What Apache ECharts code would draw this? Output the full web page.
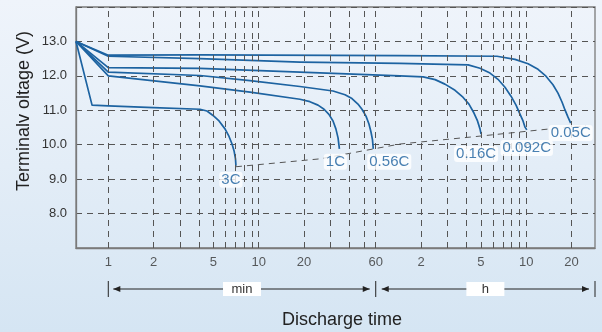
<!DOCTYPE html>
<html>
<head>
<meta charset="utf-8">
<script src="https://cdn.jsdelivr.net/npm/echarts@6/dist/echarts.min.js"></script>
<style>
html,body{margin:0;padding:0;}
body{width:602px;height:332px;background:linear-gradient(to bottom,#eff4fb 0%,#e3edf7 50%,#d5e5f3 100%);}
#c{width:602px;height:332px;}
</style>
</head>
<body>
<div id="c"></div>
<script>
// ---- data (time in minutes, voltage in V) ----
const seriesNames = ['3C', '1C', '0.56C', '0.16C', '0.092C', '0.05C'];
const curve3C = [[0.61,13.0],[0.78,11.15],[1,11.13],[2,11.08],[4.07,11.03],[4.53,10.98],[4.97,10.85],[5.45,10.69],[5.97,10.46],[6.35,10.24],[6.65,10.02],[6.86,9.82],[7.01,9.59],[7.06,9.39]];
const curve1C = [[0.61,13.0],[1,12.0],[4.07,11.71],[8.75,11.53],[18.8,11.32],[21.9,11.25],[24.8,11.15],[27.2,11.03],[29.3,10.88],[31.2,10.69],[32.6,10.46],[33.7,10.20],[34.4,9.88]];
const curve056C = [[0.61,13.0],[1,12.11],[4.07,12.01],[8.75,11.86],[18.8,11.69],[31.2,11.56],[37.5,11.45],[41.7,11.34],[45.7,11.18],[48.6,11.03],[51.7,10.83],[54.1,10.60],[55.8,10.37],[57.1,10.14],[57.8,9.88]];
const curve016C = [[0.61,13.0],[1,12.24],[4.07,12.22],[18.8,12.11],[86.9,12.0],[124,11.97],[149,11.89],[173,11.76],[202,11.58],[228,11.38],[250,11.18],[270,10.92],[285,10.69],[296,10.46],[301,10.31]];
const curve0092C = [[0.61,13.0],[1,12.57],[4.07,12.50],[18.8,12.40],[86.9,12.36],[247,12.32],[296,12.22],[345,12.08],[390,11.90],[434,11.67],[476,11.41],[514,11.15],[546,10.89],[572,10.69],[590,10.51],[606,10.43]];
const curve005C = [[0.61,13.0],[1,12.60],[4.07,12.61],[86.9,12.59],[384,12.57],[506,12.48],[618,12.35],[720,12.19],[813,11.99],[905,11.74],[977,11.50],[1039,11.24],[1088,11.01],[1139,10.80],[1187,10.63]];
const endVoltageLine = [[7.06,9.36],[25.6,9.59],[86.9,10.02],[296,10.25],[865,10.46],[1500,10.55]];
const gridMinutes = [1,2,3,4,5,6,7,8,9,10,20,30,40,50,60,120,180,240,300,360,420,480,540,600,1200];
const tickMinutes = [1,2,5,10,20,60,120,300,600,1200];
const tickLabels = ['1','2','5','10','20','60','2','5','10','20'];
const yTickLabels = ['8.0','9.0','10.0','11.0','12.0','13.0'];

// ---- styles / layout ----
const curves = [curve3C, curve1C, curve056C, curve016C, curve0092C, curve005C];
const labelOffsets = [[-5,14],[-4,13],[16,13],[-5,20],[0,18],[0,10]];
const lineColor = '#1d63a1';
const gridColor = '#555';
const font = 'Liberation Sans, Arial, sans-serif';
const X_MIN = 0.61, X_MAX = 1722, Y_MIN = 7, Y_MAX = 14;

const chart = echarts.init(document.getElementById('c'), null, {renderer: 'canvas', width: 602, height: 332});

const series = [];
series.push({
  name: 'ticks', type: 'scatter', z: 1, silent: true, clip: false,
  symbolSize: 1, itemStyle: {color: 'rgba(0,0,0,0)'},
  data: tickMinutes.map((t, i) => ({value: [t, Y_MIN], label: {formatter: tickLabels[i]}})),
  label: {show: true, position: 'bottom', distance: 7, color: '#333', fontSize: 13, fontFamily: font},
  markLine: {
    silent: true, symbol: ['none', 'none'], animation: false,
    label: {show: false},
    lineStyle: {type: [6, 5], color: gridColor, width: 1},
    data: gridMinutes.map(v => ({xAxis: v}))
  }
});
series.push({
  name: 'end', type: 'line', z: 2, silent: true, showSymbol: false, symbol: 'none',
  lineStyle: {type: [6, 5], color: gridColor, width: 1},
  data: endVoltageLine
});
curves.forEach((c, i) => {
  series.push({
    name: seriesNames[i], type: 'line', z: 3, silent: true, symbol: 'none', showSymbol: false,
    smooth: false,
    lineStyle: {color: lineColor, width: 1.7, join: 'round'},
    data: c
  });
});
series.push({
  name: 'labels', type: 'scatter', z: 5, silent: true, clip: false,
  symbolSize: 1, itemStyle: {color: 'rgba(0,0,0,0)'},
  data: curves.map((c, i) => ({
    value: c[c.length - 1],
    label: {formatter: seriesNames[i], offset: labelOffsets[i]}
  })),
  label: {
    show: true, position: 'inside', align: 'center', verticalAlign: 'middle',
    color: '#1a5f9e', fontSize: 15, fontFamily: font,
    backgroundColor: '#ffffff', padding: [1, 2, 0, 2], borderRadius: 3
  }
});

chart.setOption({
  animation: false,
  backgroundColor: 'transparent',
  grid: {left: 76, right: 7, top: 7, bottom: 84, show: true, borderColor: '#7a7a7a', borderWidth: 1.3, backgroundColor: 'transparent'},
  xAxis: {
    type: 'log', min: X_MIN, max: X_MAX, logBase: 10,
    axisLine: {show: true, lineStyle: {color: '#7a7a7a', width: 1.3}},
    axisTick: {show: false}, axisLabel: {show: false}, splitLine: {show: false}, minorSplitLine: {show: false}
  },
  yAxis: {
    type: 'value', min: Y_MIN, max: Y_MAX, interval: 1,
    axisLine: {show: true, lineStyle: {color: '#7a7a7a', width: 1.3}},
    axisTick: {show: false},
    axisLabel: {
      margin: 9, color: '#333', fontSize: 13, fontFamily: font,
      formatter: v => (v >= 8 && v <= 13) ? yTickLabels[v - 8] : ''
    },
    splitLine: {show: true, lineStyle: {type: [6, 5], color: gridColor, width: 1}}
  },
  series: series
});

// ---- annotations (arrows, axis titles) ----
const px = t => chart.convertToPixel({xAxisIndex: 0}, t);
const x1 = px(1), x60 = px(60), xEnd = px(X_MAX);
const ay = 289;
const black = '#222';
function bar(x) { return {type: 'line', shape: {x1: x, y1: ay - 8, x2: x, y2: ay + 8}, style: {stroke: black, lineWidth: 1}}; }
function lineSeg(a, b) { return {type: 'line', shape: {x1: a, y1: ay, x2: b, y2: ay}, style: {stroke: black, lineWidth: 1}}; }
function headL(x) { return {type: 'polygon', shape: {points: [[x, ay], [x + 7, ay - 3], [x + 7, ay + 3]]}, style: {fill: black}}; }
function headR(x) { return {type: 'polygon', shape: {points: [[x, ay], [x - 7, ay - 3], [x - 7, ay + 3]]}, style: {fill: black}}; }
function boxText(cx, txt, w) {
  return [
    {type: 'rect', shape: {x: cx - w / 2, y: ay - 7, width: w, height: 14}, style: {fill: '#fff'}},
    {type: 'text', x: cx, y: ay, style: {text: txt, fill: '#333', font: '13px ' + font, textAlign: 'center', textVerticalAlign: 'middle'}}
  ];
}
const g = [
  bar(x1), lineSeg(x1 + 5, x60 - 6), headL(x1 + 5), headR(x60 - 6),
  bar(x60), lineSeg(x60 + 6, xEnd - 6), headL(x60 + 6), headR(xEnd - 6),
  bar(xEnd)
].concat(boxText((x1 + x60) / 2, 'min', 38)).concat(boxText((x60 + xEnd) / 2, 'h', 38));
g.push({type: 'text', x: 24, y: 111, rotation: Math.PI / 2,
  style: {text: 'Terminalv oltage (V)', fill: '#222', font: '18px ' + font, textAlign: 'center', textVerticalAlign: 'middle'}});
g.push({type: 'text', x: 342, y: 320,
  style: {text: 'Discharge time', fill: '#222', font: '18px ' + font, textAlign: 'center', textVerticalAlign: 'middle'}});
chart.setOption({graphic: g});
</script>
</body>
</html>
